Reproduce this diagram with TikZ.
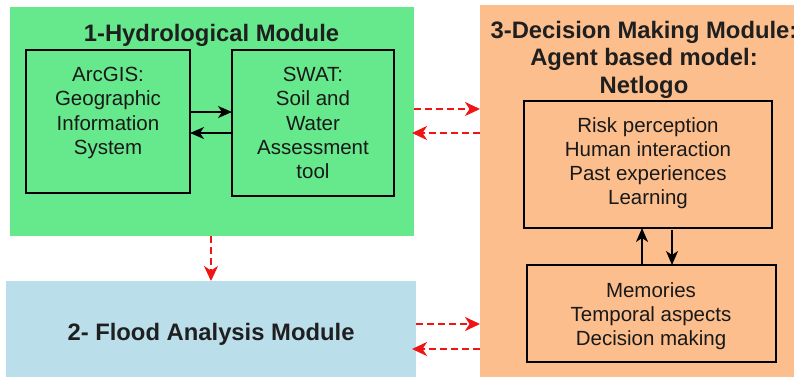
\documentclass[tikz,border=0pt]{standalone}
\usepackage{fontspec}
\setmainfont{Liberation Sans}
\usetikzlibrary{arrows.meta}
\definecolor{gr}{RGB}{102,232,140}
\definecolor{org}{RGB}{252,190,140}
\definecolor{blu}{RGB}{187,222,235}
\definecolor{rd}{RGB}{240,20,20}
\tikzset{
  module/.style={draw=none, inner sep=0, outer sep=0},
  inbox/.style={draw=black, line width=2.2pt, inner sep=0, outer sep=0},
  ttl/.style={font=\fontsize{23.8}{27.5}\selectfont\bfseries, align=center, inner sep=0, text=black!88},
  body/.style={font=\fontsize{20.5}{24.3}\selectfont, align=center, inner sep=0, anchor=north, text=black!90},
  blk/.style={-{Stealth[length=14pt,width=12pt,inset=4pt]}, line width=1.6pt, black},
  rda/.style={-{Stealth[length=15pt,width=14pt,inset=4.5pt]}, line width=2.2pt, rd, dash pattern=on 7pt off 4pt},
}
\begin{document}
\begin{tikzpicture}[x=1pt,y=-1pt]
\useasboundingbox (0,0) rectangle (794,376);
\begin{scope}
\clip (0,0) rectangle (794,376);
% modules
\node[module, fill=gr, minimum width=404pt, minimum height=229pt] (green) at (212,121.5) {};
\node[module, fill=blu, minimum width=410pt, minimum height=97pt] (blue) at (211,329.5) {};
\node[module, fill=org, minimum width=320pt, minimum height=375pt] (orange) at (640,192.5) {};
% titles
\node[ttl, anchor=base] (t1) at (211.5,41) {1-Hydrological Module};
\node[ttl, anchor=base] (t2) at (211,340) {2- Flood Analysis Module};
\node[ttl, anchor=north] (t3) at (644,21) {3-Decision Making Module:\\Agent based model:\\Netlogo};
% inner boxes
\node[inbox, minimum width=164pt, minimum height=143pt] (arc) at (108,121.5) {};
\node[inbox, minimum width=162pt, minimum height=146pt] (swat) at (313,123) {};
\node[inbox, minimum width=248pt, minimum height=127pt] (risk) at (648,164.5) {};
\node[inbox, minimum width=249pt, minimum height=97pt] (mem) at (651.5,313.5) {};
% texts
\node[body] (arct) at (108,67) {ArcGIS:\\Geographic\\Information\\System};
\node[body] (swatt) at (313,67) {SWAT:\\Soil and\\Water\\Assessment\\tool};
\node[body] (riskt) at (648,117) {Risk perception\\Human interaction\\Past experiences\\Learning};
\node[body] (memt) at (651,282) {Memories\\Temporal aspects\\Decision making};
% black arrows
\draw[blk] ([yshift=9.5pt]arc.east) -- ([yshift=9.5pt]arc.east -| swat.west);
\draw[blk] ([yshift=-11.5pt]arc.east -| swat.west) -- ([yshift=-11.5pt]arc.east);
\draw[blk] ([xshift=-9.5pt]mem.north) -- ([xshift=-9.5pt]mem.north |- risk.south);
\draw[blk] ([xshift=20.5pt,yshift=-2pt]mem.north |- risk.south) -- ([xshift=20.5pt]mem.north);
% red dashed arrows
\draw[rda] ([yshift=12.5pt]green.east) -- ([yshift=12.5pt]green.east -| orange.west);
\draw[rda] ([yshift=-11.5pt]green.east -| orange.west) -- ([xshift=-2pt,yshift=-11.5pt]green.east);
\draw[rda] ([xshift=-1pt]green.south) -- ([xshift=-1pt]green.south |- blue.north);
\draw[rda] ([yshift=5.5pt]blue.east) -- ([yshift=5.5pt]blue.east -| orange.west);
\draw[rda] ([yshift=-19.5pt]blue.east -| orange.west) -- ([xshift=-4pt,yshift=-19.5pt]blue.east);
\end{scope}
\end{tikzpicture}
\end{document}
